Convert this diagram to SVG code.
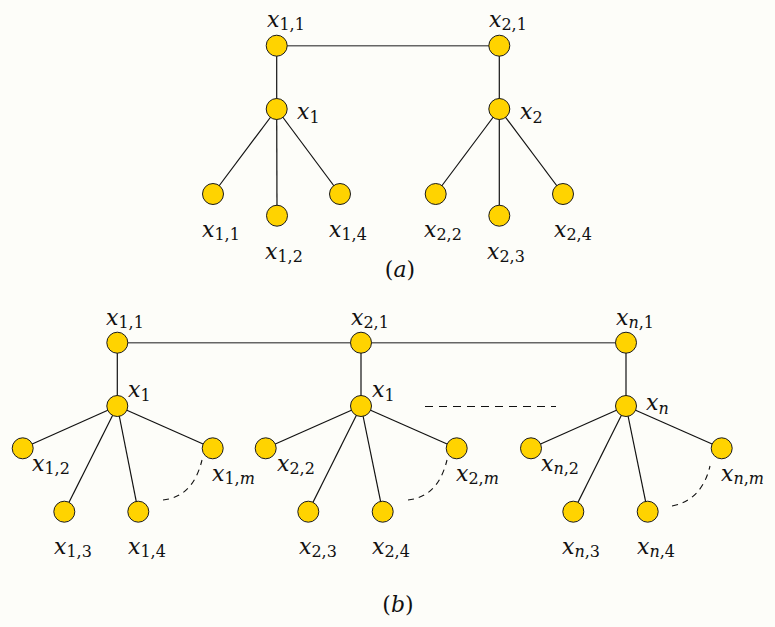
<svg xmlns="http://www.w3.org/2000/svg" width="775" height="627" viewBox="0 0 775 627" font-family="'DejaVu Serif', 'Liberation Serif', serif">
<style>
.n{fill:#FFD300;stroke:#1a1a1a;stroke-width:1}
.e{stroke:#111;stroke-width:1.2;fill:none}
.g{stroke:#666;stroke-width:1.4;fill:none}
.d{stroke:#111;stroke-width:1.2;fill:none;stroke-dasharray:8 6}
.da{stroke:#111;stroke-width:1.1;fill:none;stroke-dasharray:6 5}
text{fill:#111}
.l{font-size:22px;font-style:italic}
.s{font-size:16px;font-style:normal}
.i{font-style:italic}
.c{font-size:22px}
</style>
<rect width="775" height="627" fill="#FDFDF9"/>
<g id="connectors">
<line class="g" x1="276.7" y1="45.7" x2="499.3" y2="45.7"/>
<line class="e" x1="276.7" y1="45.7" x2="276.7" y2="109"/>
<line class="e" x1="499.3" y1="45.7" x2="499.3" y2="109"/>
<line class="e" x1="276.7" y1="109" x2="213" y2="194"/>
<line class="e" x1="276.7" y1="109" x2="277" y2="215.7"/>
<line class="e" x1="276.7" y1="109" x2="340" y2="194"/>
<line class="e" x1="499.3" y1="109" x2="435.7" y2="194"/>
<line class="e" x1="499.3" y1="109" x2="499.3" y2="215.7"/>
<line class="e" x1="499.3" y1="109" x2="563" y2="194"/>
<line class="g" x1="117.3" y1="342.7" x2="626" y2="342.7"/>
<line class="e" x1="117.3" y1="342.7" x2="117.3" y2="406"/>
<line class="e" x1="361" y1="342.7" x2="361" y2="406"/>
<line class="e" x1="626" y1="342.7" x2="626" y2="406"/>
<line class="e" x1="117.3" y1="406" x2="22.7" y2="448.3"/>
<line class="e" x1="117.3" y1="406" x2="64.3" y2="511.7"/>
<line class="e" x1="117.3" y1="406" x2="138.3" y2="511.7"/>
<line class="e" x1="117.3" y1="406" x2="212.7" y2="448.3"/>
<line class="e" x1="361" y1="406" x2="265.7" y2="448.3"/>
<line class="e" x1="361" y1="406" x2="308.3" y2="511.7"/>
<line class="e" x1="361" y1="406" x2="382.7" y2="511.7"/>
<line class="e" x1="361" y1="406" x2="456.7" y2="448.3"/>
<line class="e" x1="626" y1="406" x2="531" y2="448.3"/>
<line class="e" x1="626" y1="406" x2="573.3" y2="511.7"/>
<line class="e" x1="626" y1="406" x2="647.7" y2="511.7"/>
<line class="e" x1="626" y1="406" x2="721.7" y2="448.3"/>
<line class="d" x1="425" y1="406.5" x2="556" y2="406.5"/>
<path class="da" d="M163,500 Q193,497 202,460"/>
<path class="da" d="M408,500 Q438,497 447,460"/>
<path class="da" d="M672,506 Q702,500 710,466"/>
</g>
<g id="a_x11"><circle class="n" cx="276.7" cy="45.7" r="10.5"/><text class="l" x="267" y="27">x<tspan class="s" dy="3">1,1</tspan></text></g>
<g id="a_x21"><circle class="n" cx="499.3" cy="45.7" r="10.5"/><text class="l" x="489" y="27">x<tspan class="s" dy="3">2,1</tspan></text></g>
<g id="a_x1"><circle class="n" cx="276.7" cy="109" r="10.5"/><text class="l" x="297" y="119">x<tspan class="s" dy="4">1</tspan></text></g>
<g id="a_x2"><circle class="n" cx="499.3" cy="109" r="10.5"/><text class="l" x="520" y="119">x<tspan class="s" dy="4">2</tspan></text></g>
<g id="a_x11b"><circle class="n" cx="213" cy="194" r="10.5"/><text class="l" x="202" y="237">x<tspan class="s" dy="3">1,1</tspan></text></g>
<g id="a_x12"><circle class="n" cx="277" cy="215.7" r="10.5"/><text class="l" x="265" y="259">x<tspan class="s" dy="3">1,2</tspan></text></g>
<g id="a_x14"><circle class="n" cx="340" cy="194" r="10.5"/><text class="l" x="329" y="237">x<tspan class="s" dy="3">1,4</tspan></text></g>
<g id="a_x22"><circle class="n" cx="435.7" cy="194" r="10.5"/><text class="l" x="424" y="237">x<tspan class="s" dy="3">2,2</tspan></text></g>
<g id="a_x23"><circle class="n" cx="499.3" cy="215.7" r="10.5"/><text class="l" x="487" y="259">x<tspan class="s" dy="3">2,3</tspan></text></g>
<g id="a_x24"><circle class="n" cx="563" cy="194" r="10.5"/><text class="l" x="554" y="237">x<tspan class="s" dy="3">2,4</tspan></text></g>
<text class="c" x="400" y="277" text-anchor="middle">(<tspan class="i">a</tspan>)</text>
<g id="b_x11"><circle class="n" cx="117.3" cy="342.7" r="10.5"/><text class="l" x="106" y="325">x<tspan class="s" dy="3">1,1</tspan></text></g>
<g id="b_x21"><circle class="n" cx="361" cy="342.7" r="10.5"/><text class="l" x="351" y="325">x<tspan class="s" dy="3">2,1</tspan></text></g>
<g id="b_xn1"><circle class="n" cx="626" cy="342.7" r="10.5"/><text class="l" x="616" y="325">x<tspan class="s" dy="3"><tspan class="i">n</tspan>,1</tspan></text></g>
<g id="b_x1"><circle class="n" cx="117.3" cy="406" r="10.5"/><text class="l" x="128" y="397">x<tspan class="s" dy="4">1</tspan></text></g>
<g id="b_x1mid"><circle class="n" cx="361" cy="406" r="10.5"/><text class="l" x="372" y="397">x<tspan class="s" dy="4">1</tspan></text></g>
<g id="b_xn"><circle class="n" cx="626" cy="406" r="10.5"/><text class="l" x="646" y="410">x<tspan class="s i" dy="4">n</tspan></text></g>
<g id="b_x12"><circle class="n" cx="22.7" cy="448.3" r="10.5"/><text class="l" x="32" y="471">x<tspan class="s" dy="3">1,2</tspan></text></g>
<g id="b_x13"><circle class="n" cx="64.3" cy="511.7" r="10.5"/><text class="l" x="54" y="554">x<tspan class="s" dy="3">1,3</tspan></text></g>
<g id="b_x14"><circle class="n" cx="138.3" cy="511.7" r="10.5"/><text class="l" x="128" y="554">x<tspan class="s" dy="3">1,4</tspan></text></g>
<g id="b_x1m"><circle class="n" cx="212.7" cy="448.3" r="10.5"/><text class="l" x="212" y="481">x<tspan class="s" dy="3">1,<tspan class="i">m</tspan></tspan></text></g>
<g id="b_x22"><circle class="n" cx="265.7" cy="448.3" r="10.5"/><text class="l" x="277" y="471">x<tspan class="s" dy="3">2,2</tspan></text></g>
<g id="b_x23"><circle class="n" cx="308.3" cy="511.7" r="10.5"/><text class="l" x="299" y="554">x<tspan class="s" dy="3">2,3</tspan></text></g>
<g id="b_x24"><circle class="n" cx="382.7" cy="511.7" r="10.5"/><text class="l" x="372" y="554">x<tspan class="s" dy="3">2,4</tspan></text></g>
<g id="b_x2m"><circle class="n" cx="456.7" cy="448.3" r="10.5"/><text class="l" x="456" y="481">x<tspan class="s" dy="3">2,<tspan class="i">m</tspan></tspan></text></g>
<g id="b_xn2"><circle class="n" cx="531" cy="448.3" r="10.5"/><text class="l" x="541" y="471">x<tspan class="s" dy="3"><tspan class="i">n</tspan>,2</tspan></text></g>
<g id="b_xn3"><circle class="n" cx="573.3" cy="511.7" r="10.5"/><text class="l" x="562" y="554">x<tspan class="s" dy="3"><tspan class="i">n</tspan>,3</tspan></text></g>
<g id="b_xn4"><circle class="n" cx="647.7" cy="511.7" r="10.5"/><text class="l" x="637" y="554">x<tspan class="s" dy="3"><tspan class="i">n</tspan>,4</tspan></text></g>
<g id="b_xnm"><circle class="n" cx="721.7" cy="448.3" r="10.5"/><text class="l" x="721" y="481">x<tspan class="s" dy="3"><tspan class="i">n</tspan>,<tspan class="i">m</tspan></tspan></text></g>
<text class="c" x="398" y="612" text-anchor="middle">(<tspan class="i">b</tspan>)</text>
</svg>
